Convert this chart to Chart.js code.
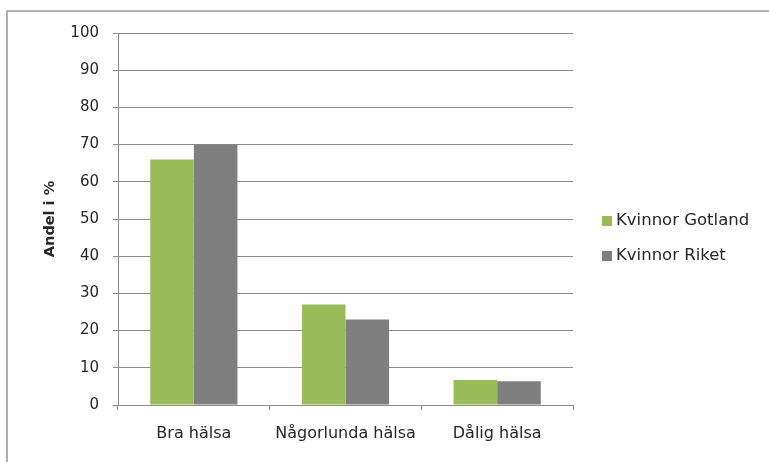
<!DOCTYPE html>
<html>
<head>
<meta charset="utf-8">
<script src="https://cdn.jsdelivr.net/npm/chart.js@4.4.0/dist/chart.umd.min.js"></script>
<style>
  html, body { margin: 0; padding: 0; background: #fff; overflow: hidden; }
  canvas { display: block; }
</style>
</head>
<body>
<canvas id="chart" width="769" height="462"></canvas>
<script>
var kategorier = ["Bra hälsa", "Någorlunda hälsa", "Dålig hälsa"];
var gotland = [66, 27, 6.7];
var riket = [70, 23, 6.4];
var serier = ["Kvinnor Gotland", "Kvinnor Riket"];
var farger = ["#9bbb59", "#7f7f7f"];

var typsnitt = "'DejaVu Sans', sans-serif";

// ramen runt diagrammet (bara vänster och övre kant syns i bilden)
var ramPlugin = {
    id: 'ram',
    beforeDraw: function (chart) {
        var c = chart.ctx;
        c.save();
        c.fillStyle = "#fff";
        c.fillRect(0, 0, chart.width, chart.height);
        c.strokeStyle = "#b0b0b0";
        c.lineWidth = 2;
        c.beginPath();
        c.moveTo(7, chart.height);
        c.lineTo(7, 11);
        c.lineTo(chart.width, 11);
        c.stroke();
        c.restore();
    }
};

// egen legend till höger, som i Excel-bilden
var legendPlugin = {
    id: 'sidlegend',
    afterDraw: function (chart) {
        var c = chart.ctx;
        c.save();
        c.font = "16.5px " + typsnitt;
        c.textBaseline = "middle";
        chart.data.datasets.forEach(function (ds, i) {
            var y = 221 + i * 35;
            c.fillStyle = ds.backgroundColor;
            c.fillRect(602, y - 5, 10, 10);
            c.fillStyle = "#262626";
            c.fillText(ds.label, 616, y);
        });
        c.restore();
    }
};

var ctx = document.getElementById("chart");
var stapel = new Chart(ctx, {
    type: 'bar',
    data: {
        labels: kategorier,
        datasets: [
            { label: serier[0], data: gotland, backgroundColor: farger[0] },
            { label: serier[1], data: riket, backgroundColor: farger[1] }
        ]
    },
    options: {
        responsive: false,
        animation: false,
        layout: { padding: { left: 40, top: 33, right: 196, bottom: 0 } },
        datasets: { bar: { barPercentage: 1, categoryPercentage: 0.575 } },
        plugins: { legend: { display: false }, tooltip: { enabled: false } },
        scales: {
            x: {
                grid: { offset: true, drawOnChartArea: false, tickLength: 5, color: "#8c8c8c" },
                border: { color: "#8c8c8c" },
                ticks: { padding: 14, color: "#262626", font: { family: typsnitt, size: 16 } },
                afterFit: function (s) { s.height = 57; }
            },
            y: {
                min: 0, max: 100,
                ticks: { stepSize: 10, padding: 14, color: "#262626", font: { family: typsnitt, size: 15 } },
                grid: { tickLength: 5, color: "#8c8c8c" },
                border: { color: "#8c8c8c" },
                title: { display: true, text: "Andel i %", color: "#262626", padding: 2,
                         font: { family: typsnitt, size: 14.5, weight: 'bold' } },
                afterFit: function (s) { s.width = 78; }
            }
        }
    },
    plugins: [ramPlugin, legendPlugin]
});
</script>
</body>
</html>
